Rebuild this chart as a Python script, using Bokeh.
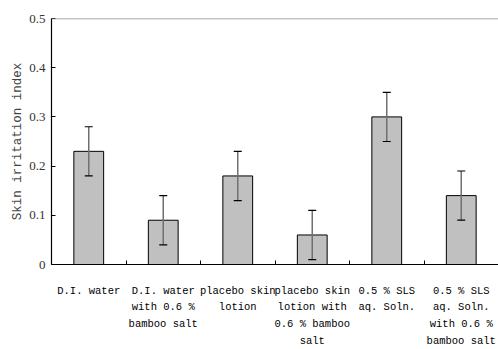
from bokeh.plotting import figure
from bokeh.models import FixedTicker, Whisker, TeeHead, ColumnDataSource, Span, Range1d
from bokeh.embed import file_html
from bokeh.resources import INLINE

categories = [
    "D.I. water",
    "D.I. water\nwith 0.6 %\nbamboo salt",
    "placebo skin\nlotion",
    "placebo skin\nlotion with\n0.6 % bamboo\nsalt",
    "0.5 % SLS\naq. Soln.",
    "0.5 % SLS\naq. Soln.\nwith 0.6 %\nbamboo salt",
]
values = [0.23, 0.09, 0.18, 0.06, 0.30, 0.14]
errors = [0.05, 0.05, 0.05, 0.05, 0.05, 0.05]
y_ticks = [0, 0.1, 0.2, 0.3, 0.4, 0.5]
y_tick_labels = ["0", "0.1", "0.2", "0.3", "0.4", "0.5"]

n = len(categories)
xs = [i + 0.5 for i in range(n)]
src = ColumnDataSource(dict(
    x=xs, top=values,
    upper=[v + e for v, e in zip(values, errors)],
    lower=[v - e for v, e in zip(values, errors)],
))

p = figure(width=498, height=349, output_backend="svg", toolbar_location=None,
           x_range=Range1d(0, n), y_range=Range1d(0, 0.5),
           min_border_left=51, min_border_right=0, min_border_top=18, min_border_bottom=84)
p.background_fill_color = "white"
p.border_fill_color = "white"
p.outline_line_color = None
p.xgrid.visible = False
p.ygrid.visible = False

p.vbar(x="x", top="top", width=0.4, bottom=0, source=src,
       fill_color="#C0C0C0", line_color="black", line_width=1)

w = Whisker(base="x", upper="upper", lower="lower", source=src,
            line_color="#707070", line_width=1.5,
            upper_head=TeeHead(size=8, line_color="black", line_width=1.2),
            lower_head=TeeHead(size=8, line_color="black", line_width=1.2))
w.level = "overlay"
p.add_layout(w)

p.add_layout(Span(location=0.5, dimension="width", line_color="#888888", line_width=1.5))

font = "Liberation Mono"

xa = p.xaxis[0]
xa.ticker = FixedTicker(ticks=xs, minor_ticks=list(range(n + 1)))
xa.major_label_overrides = {x: c for x, c in zip(xs, categories)}
xa.major_tick_line_color = None
xa.minor_tick_in = 4
xa.minor_tick_out = 0
xa.minor_tick_line_color = "black"
xa.axis_line_color = "black"
xa.axis_line_width = 1.2
xa.major_label_text_font = font
xa.major_label_text_font_size = "10.5px"
xa.major_label_text_color = "black"
xa.major_label_text_line_height = 1.4
xa.major_label_standoff = 14

ya = p.yaxis[0]
ya.ticker = FixedTicker(ticks=y_ticks)
ya.major_label_overrides = {t: l for t, l in zip(y_ticks, y_tick_labels)}
ya.major_tick_in = 4
ya.major_tick_out = 0
ya.minor_tick_line_color = None
ya.axis_line_color = "black"
ya.axis_line_width = 1.2
ya.major_label_text_font = "Liberation Serif"
ya.major_label_text_font_size = "13px"
ya.major_label_text_color = "#333333"
ya.major_label_standoff = 6
ya.axis_label = "Skin irritation index"
ya.axis_label_text_font = font
ya.axis_label_text_font_size = "12.5px"
ya.axis_label_text_font_style = "normal"
ya.axis_label_text_color = "#444444"
ya.axis_label_standoff = 1

open("out.html", "w").write(file_html(p, INLINE))
